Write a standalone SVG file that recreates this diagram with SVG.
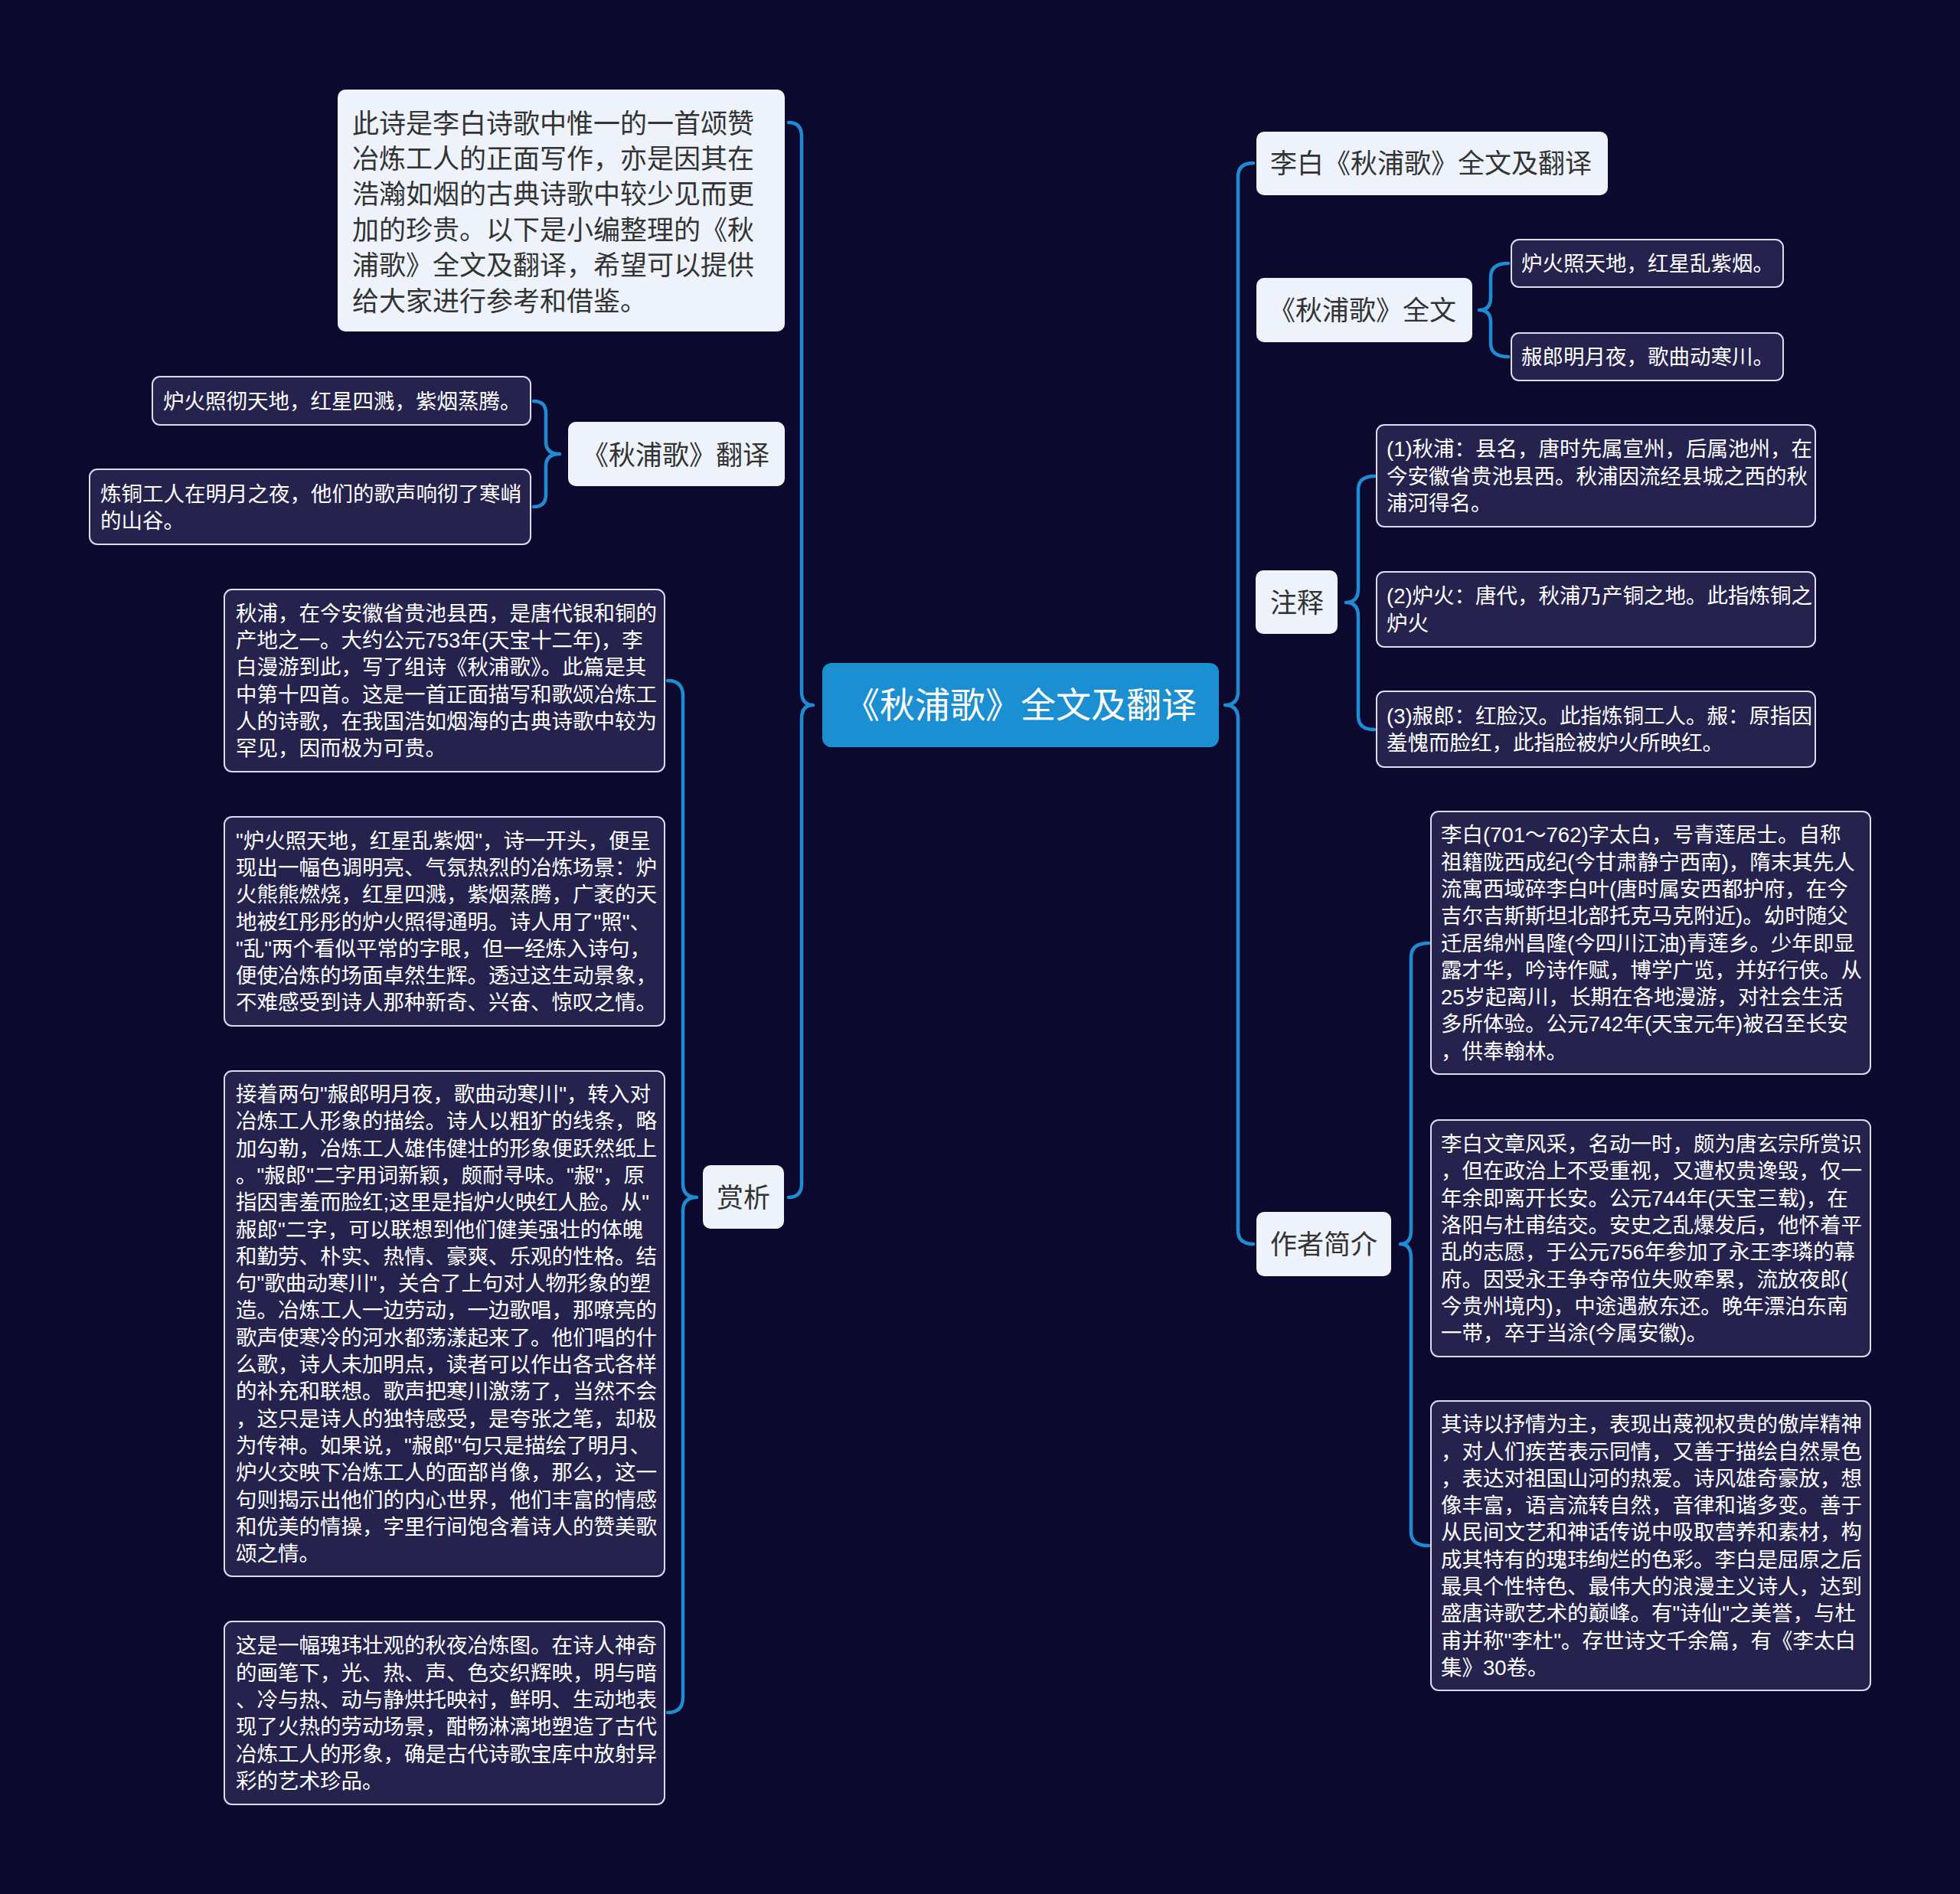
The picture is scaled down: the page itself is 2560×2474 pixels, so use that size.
<svg xmlns="http://www.w3.org/2000/svg" width="2560" height="2474" viewBox="0 0 2560 2474">
<style>
text{font-family:"Liberation Sans","Noto Sans CJK SC",sans-serif;dominant-baseline:central}
.bg{fill:#0b0a2e}
.root{fill:#1b8fd2}
.lt{fill:#eef3fb}
.dk{fill:#25234e;stroke:#dcdcee;stroke-width:2}
.tr{fill:#ffffff;font-size:46px}
.t1{fill:#333333;font-size:35px}
.ti{fill:#333333;font-size:35px}
.t2{fill:#ffffff;font-size:27.5px}
.br{fill:none;stroke:#1f8bd2;stroke-width:4.5;stroke-linecap:round;stroke-linejoin:round}
</style>
<rect class="bg" x="0" y="0" width="2560" height="2474"/>
<g id="connectors">
<path class="br" d="M1030,160 Q1047,160 1047,178 V903 Q1047,921 1062,921 Q1047,921 1047,939 V1546 Q1047,1564 1030,1564"/>
<path class="br" d="M697,524 Q713,524 713,540 V577 Q713,593 731,593 Q713,593 713,609 V646 Q713,662 697,662"/>
<path class="br" d="M872,889 Q892,889 892,909 V1546 Q892,1564 910,1564 Q892,1564 892,1582 V2217 Q892,2237 872,2237"/>
<path class="br" d="M1637,213 Q1617,213 1617,231 V903 Q1617,921 1600,921 Q1617,921 1617,939 V1607 Q1617,1625 1637,1625"/>
<path class="br" d="M1970,344 Q1947,344 1947,362 V389 Q1947,405 1932,405 Q1947,405 1947,421 V448 Q1947,466 1970,466"/>
<path class="br" d="M1795,622 Q1774,622 1774,640 V769 Q1774,787 1758,787 Q1774,787 1774,805 V935 Q1774,953 1795,953"/>
<path class="br" d="M1866,1232 Q1843,1232 1843,1250 V1607 Q1843,1625 1829,1625 Q1843,1625 1843,1643 V2001 Q1843,2019 1866,2019"/>
</g>
<g id="root">
<rect class="root" x="1074" y="866" width="518" height="110" rx="12"/>
<text class="tr" x="1333" y="921" text-anchor="middle">《秋浦歌》全文及翻译</text>
</g>
<g id="intro">
<rect class="lt" x="441" y="117" width="584" height="316" rx="10"/>
<text class="ti">
<tspan x="460" y="161">此诗是李白诗歌中惟一的一首颂赞</tspan>
<tspan x="460" y="207">冶炼工人的正面写作，亦是因其在</tspan>
<tspan x="460" y="253">浩瀚如烟的古典诗歌中较少见而更</tspan>
<tspan x="460" y="300">加的珍贵。以下是小编整理的《秋</tspan>
<tspan x="460" y="346">浦歌》全文及翻译，希望可以提供</tspan>
<tspan x="460" y="393">给大家进行参考和借鉴。</tspan>
</text>
</g>
<g id="fanyi">
<rect class="lt" x="742" y="551" width="283" height="84" rx="10"/>
<text class="t1" x="760" y="594">《秋浦歌》翻译</text>
</g>
<g id="fanyi-1">
<rect class="dk" x="199" y="492" width="494" height="63" rx="10"/>
<text class="t2" x="213" y="524">炉火照彻天地，红星四溅，紫烟蒸腾。</text>
</g>
<g id="fanyi-2">
<rect class="dk" x="117" y="613" width="576" height="98" rx="10"/>
<text class="t2"><tspan x="131" y="645">炼铜工人在明月之夜，他们的歌声响彻了寒峭</tspan><tspan x="131" y="680">的山谷。</tspan></text>
</g>
<g id="shangxi">
<rect class="lt" x="918" y="1522" width="106" height="83" rx="10"/>
<text class="t1" x="971" y="1564" text-anchor="middle">赏析</text>
</g>
<g id="shangxi-1">
<rect class="dk" x="293" y="770" width="575" height="238" rx="10"/>
<text class="t2">
<tspan x="308" y="800.8">秋浦，在今安徽省贵池县西，是唐代银和铜的</tspan>
<tspan x="308" y="836.1">产地之一。大约公元753年(天宝十二年)，李</tspan>
<tspan x="308" y="871.4">白漫游到此，写了组诗《秋浦歌》。此篇是其</tspan>
<tspan x="308" y="906.7">中第十四首。这是一首正面描写和歌颂冶炼工</tspan>
<tspan x="308" y="942">人的诗歌，在我国浩如烟海的古典诗歌中较为</tspan>
<tspan x="308" y="977.3">罕见，因而极为可贵。</tspan>
</text>
</g>
<g id="shangxi-2">
<rect class="dk" x="293" y="1067" width="575" height="273" rx="10"/>
<text class="t2">
<tspan x="308" y="1097.6">"炉火照天地，红星乱紫烟"，诗一开头，便呈</tspan>
<tspan x="308" y="1132.9">现出一幅色调明亮、气氛热烈的冶炼场景：炉</tspan>
<tspan x="308" y="1168.2">火熊熊燃烧，红星四溅，紫烟蒸腾，广袤的天</tspan>
<tspan x="308" y="1203.5">地被红彤彤的炉火照得通明。诗人用了"照"、</tspan>
<tspan x="308" y="1238.8">"乱"两个看似平常的字眼，但一经炼入诗句，</tspan>
<tspan x="308" y="1274.1">便使冶炼的场面卓然生辉。透过这生动景象，</tspan>
<tspan x="308" y="1309.4">不难感受到诗人那种新奇、兴奋、惊叹之情。</tspan>
</text>
</g>
<g id="shangxi-3">
<rect class="dk" x="293" y="1399" width="575" height="660" rx="10"/>
<text class="t2">
<tspan x="308" y="1429">接着两句"赧郎明月夜，歌曲动寒川"，转入对</tspan>
<tspan x="308" y="1464.3">冶炼工人形象的描绘。诗人以粗犷的线条，略</tspan>
<tspan x="308" y="1499.6">加勾勒，冶炼工人雄伟健壮的形象便跃然纸上</tspan>
<tspan x="308" y="1534.9">。"赧郎"二字用词新颖，颇耐寻味。"赧"，原</tspan>
<tspan x="308" y="1570.2">指因害羞而脸红;这里是指炉火映红人脸。从"</tspan>
<tspan x="308" y="1605.5">赧郎"二字，可以联想到他们健美强壮的体魄</tspan>
<tspan x="308" y="1640.8">和勤劳、朴实、热情、豪爽、乐观的性格。结</tspan>
<tspan x="308" y="1676.1">句"歌曲动寒川"，关合了上句对人物形象的塑</tspan>
<tspan x="308" y="1711.4">造。冶炼工人一边劳动，一边歌唱，那嘹亮的</tspan>
<tspan x="308" y="1746.7">歌声使寒冷的河水都荡漾起来了。他们唱的什</tspan>
<tspan x="308" y="1782">么歌，诗人未加明点，读者可以作出各式各样</tspan>
<tspan x="308" y="1817.3">的补充和联想。歌声把寒川激荡了，当然不会</tspan>
<tspan x="308" y="1852.6">，这只是诗人的独特感受，是夸张之笔，却极</tspan>
<tspan x="308" y="1887.9">为传神。如果说，"赧郎"句只是描绘了明月、</tspan>
<tspan x="308" y="1923.2">炉火交映下冶炼工人的面部肖像，那么，这一</tspan>
<tspan x="308" y="1958.5">句则揭示出他们的内心世界，他们丰富的情感</tspan>
<tspan x="308" y="1993.8">和优美的情操，字里行间饱含着诗人的赞美歌</tspan>
<tspan x="308" y="2029.1">颂之情。</tspan>
</text>
</g>
<g id="shangxi-4">
<rect class="dk" x="293" y="2118" width="575" height="239" rx="10"/>
<text class="t2">
<tspan x="308" y="2149.3">这是一幅瑰玮壮观的秋夜冶炼图。在诗人神奇</tspan>
<tspan x="308" y="2184.6">的画笔下，光、热、声、色交织辉映，明与暗</tspan>
<tspan x="308" y="2219.9">、冷与热、动与静烘托映衬，鲜明、生动地表</tspan>
<tspan x="308" y="2255.2">现了火热的劳动场景，酣畅淋漓地塑造了古代</tspan>
<tspan x="308" y="2290.5">冶炼工人的形象，确是古代诗歌宝库中放射异</tspan>
<tspan x="308" y="2325.8">彩的艺术珍品。</tspan>
</text>
</g>
<g id="title">
<rect class="lt" x="1641" y="172" width="459" height="83" rx="10"/>
<text class="t1" x="1659" y="213">李白《秋浦歌》全文及翻译</text>
</g>
<g id="quanwen">
<rect class="lt" x="1641" y="363" width="282" height="84" rx="10"/>
<text class="t1" x="1657" y="405">《秋浦歌》全文</text>
</g>
<g id="quanwen-1">
<rect class="dk" x="1974" y="313" width="355" height="62" rx="10"/>
<text class="t2" x="1987" y="344">炉火照天地，红星乱紫烟。</text>
</g>
<g id="quanwen-2">
<rect class="dk" x="1974" y="435" width="355" height="62" rx="10"/>
<text class="t2" x="1987" y="466">赧郎明月夜，歌曲动寒川。</text>
</g>
<g id="zhushi">
<rect class="lt" x="1640" y="745" width="107" height="83" rx="10"/>
<text class="t1" x="1694" y="787" text-anchor="middle">注释</text>
</g>
<g id="zhushi-1">
<rect class="dk" x="1798" y="555" width="573" height="133" rx="10"/>
<text class="t2">
<tspan x="1811" y="586.2">(1)秋浦：县名，唐时先属宣州，后属池州，在</tspan>
<tspan x="1811" y="621.5">今安徽省贵池县西。秋浦因流经县城之西的秋</tspan>
<tspan x="1811" y="656.8">浦河得名。</tspan>
</text>
</g>
<g id="zhushi-2">
<rect class="dk" x="1798" y="747" width="573" height="98" rx="10"/>
<text class="t2">
<tspan x="1811" y="778.4">(2)炉火：唐代，秋浦乃产铜之地。此指炼铜之</tspan>
<tspan x="1811" y="813.7">炉火</tspan>
</text>
</g>
<g id="zhushi-3">
<rect class="dk" x="1798" y="903" width="573" height="99" rx="10"/>
<text class="t2">
<tspan x="1811" y="934.9">(3)赧郎：红脸汉。此指炼铜工人。赧：原指因</tspan>
<tspan x="1811" y="970.2">羞愧而脸红，此指脸被炉火所映红。</tspan>
</text>
</g>
<g id="zuozhe">
<rect class="lt" x="1641" y="1583" width="176" height="84" rx="10"/>
<text class="t1" x="1729" y="1625" text-anchor="middle">作者简介</text>
</g>
<g id="zuozhe-1">
<rect class="dk" x="1869" y="1060" width="574" height="343" rx="10"/>
<text class="t2">
<tspan x="1882" y="1090.3">李白(701～762)字太白，号青莲居士。自称</tspan>
<tspan x="1882" y="1125.6">祖籍陇西成纪(今甘肃静宁西南)，隋末其先人</tspan>
<tspan x="1882" y="1160.9">流寓西域碎李白叶(唐时属安西都护府，在今</tspan>
<tspan x="1882" y="1196.2">吉尔吉斯斯坦北部托克马克附近)。幼时随父</tspan>
<tspan x="1882" y="1231.5">迁居绵州昌隆(今四川江油)青莲乡。少年即显</tspan>
<tspan x="1882" y="1266.8">露才华，吟诗作赋，博学广览，并好行侠。从</tspan>
<tspan x="1882" y="1302.1">25岁起离川，长期在各地漫游，对社会生活</tspan>
<tspan x="1882" y="1337.4">多所体验。公元742年(天宝元年)被召至长安</tspan>
<tspan x="1882" y="1372.7">，供奉翰林。</tspan>
</text>
</g>
<g id="zuozhe-2">
<rect class="dk" x="1869" y="1463" width="574" height="309" rx="10"/>
<text class="t2">
<tspan x="1882" y="1494">李白文章风采，名动一时，颇为唐玄宗所赏识</tspan>
<tspan x="1882" y="1529.3">，但在政治上不受重视，又遭权贵谗毁，仅一</tspan>
<tspan x="1882" y="1564.6">年余即离开长安。公元744年(天宝三载)，在</tspan>
<tspan x="1882" y="1599.9">洛阳与杜甫结交。安史之乱爆发后，他怀着平</tspan>
<tspan x="1882" y="1635.2">乱的志愿，于公元756年参加了永王李璘的幕</tspan>
<tspan x="1882" y="1670.5">府。因受永王争夺帝位失败牵累，流放夜郎(</tspan>
<tspan x="1882" y="1705.8">今贵州境内)，中途遇赦东还。晚年漂泊东南</tspan>
<tspan x="1882" y="1741.1">一带，卒于当涂(今属安徽)。</tspan>
</text>
</g>
<g id="zuozhe-3">
<rect class="dk" x="1869" y="1830" width="574" height="378" rx="10"/>
<text class="t2">
<tspan x="1882" y="1860.2">其诗以抒情为主，表现出蔑视权贵的傲岸精神</tspan>
<tspan x="1882" y="1895.5">，对人们疾苦表示同情，又善于描绘自然景色</tspan>
<tspan x="1882" y="1930.8">，表达对祖国山河的热爱。诗风雄奇豪放，想</tspan>
<tspan x="1882" y="1966.1">像丰富，语言流转自然，音律和谐多变。善于</tspan>
<tspan x="1882" y="2001.4">从民间文艺和神话传说中吸取营养和素材，构</tspan>
<tspan x="1882" y="2036.7">成其特有的瑰玮绚烂的色彩。李白是屈原之后</tspan>
<tspan x="1882" y="2072">最具个性特色、最伟大的浪漫主义诗人，达到</tspan>
<tspan x="1882" y="2107.3">盛唐诗歌艺术的巅峰。有"诗仙"之美誉，与杜</tspan>
<tspan x="1882" y="2142.6">甫并称"李杜"。存世诗文千余篇，有《李太白</tspan>
<tspan x="1882" y="2177.9">集》30卷。</tspan>
</text>
</g>
</svg>
